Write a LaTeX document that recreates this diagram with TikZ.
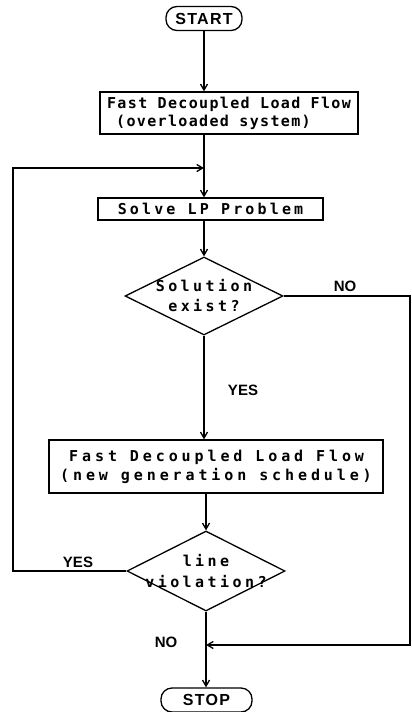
\documentclass[tikz,border=0pt]{standalone}
\usepackage{fontspec}
\usetikzlibrary{shapes.geometric,arrows.meta,calc}
\newfontfamily\boxA[LetterSpace=9]{DejaVu Sans Mono Bold}
\newfontfamily\boxB[LetterSpace=21]{DejaVu Sans Mono Bold}
\newfontfamily\boxC[LetterSpace=26]{DejaVu Sans Mono Bold}
\newfontfamily\diaf[LetterSpace=23]{DejaVu Sans Mono Bold}
\newfontfamily\termf[LetterSpace=8]{Liberation Sans Bold}
\newfontfamily\labf{Liberation Sans Bold}
\begin{document}
\begin{tikzpicture}[x=1pt,y=-1pt,
  ln/.style={line width=1.3pt},
  arr/.style={ln,-{Straight Barb[length=6pt,width=7pt]}},
  procbox/.style={draw,ln,rectangle,inner sep=0pt},
  termbox/.style={draw,ln,rectangle,rounded corners=11pt,inner sep=0pt,minimum height=24pt,
    font=\termf\fontsize{16}{16}\selectfont},
  decision/.style={draw,ln,diamond,inner sep=0pt,minimum width=158pt},
  lbl/.style={font=\labf\fontsize{15}{15}\selectfont,inner sep=0pt}]
\useasboundingbox[fill=white] (0,0) rectangle (412,712);

\node[termbox,minimum width=76pt] (start) at (204,18.5) {START};
\node[procbox,minimum width=258pt,minimum height=42pt,align=left,
  font=\boxA\fontsize{15}{18}\selectfont] (b1) at (229,113)
  {Fast Decoupled Load Flow\\\hphantom{x}(overloaded system)};
\node[procbox,minimum width=225pt,minimum height=22pt,
  font=\boxB\fontsize{15}{18}\selectfont] (b2) at (210.5,209)
  {Solve LP Problem\hspace{16pt}};
\node[decision,minimum height=78pt,
  label={[font=\diaf\fontsize{15}{20}\selectfont,align=center]center:Solution\\exist?}] (d1) at (204,296) {};
\node[procbox,minimum width=334pt,minimum height=53pt,align=left,
  font=\boxC\fontsize{15}{19}\selectfont] (b3) at (216,466.5)
  {\hphantom{x}Fast Decoupled Load Flow\\(new generation schedule)};
\node[decision,minimum height=80pt,
  label={[font=\diaf\fontsize{15}{21}\selectfont,align=center]center:line\\violation?}] (d2) at (206,571) {};
\node[termbox,minimum width=91pt] (stop) at (206.5,700) {STOP};

\coordinate (j1) at (204,168);
\coordinate (lp) at (13,571);
\coordinate (rt) at (410,296);
\coordinate (j2) at (204,645);

\draw[arr] (start.south -| d1) -- (b1.north -| d1);
\draw[arr] (b1.south -| d1) -- (b2.north -| d1);
\draw[arr] (b2.south -| d1) -- (d1.north);
\draw[arr] (d1.south) -- (b3.north -| d1);
\draw[arr] (b3.south -| d2) -- (d2.north);
\draw[arr] (d2.south) -- (stop.north -| d2);
\draw[arr] (d2.west) -- (lp) |- (j1);
\draw[arr] (d1.east) -- (rt) |- (j2 -| d2);

\node[lbl] (no1) at (345,286) {NO};
\node[lbl] (yes1) at (243,390) {YES};
\node[lbl] (yes2) at (78,562) {YES};
\node[lbl] (no2) at (166,642) {NO};
\end{tikzpicture}
\end{document}
